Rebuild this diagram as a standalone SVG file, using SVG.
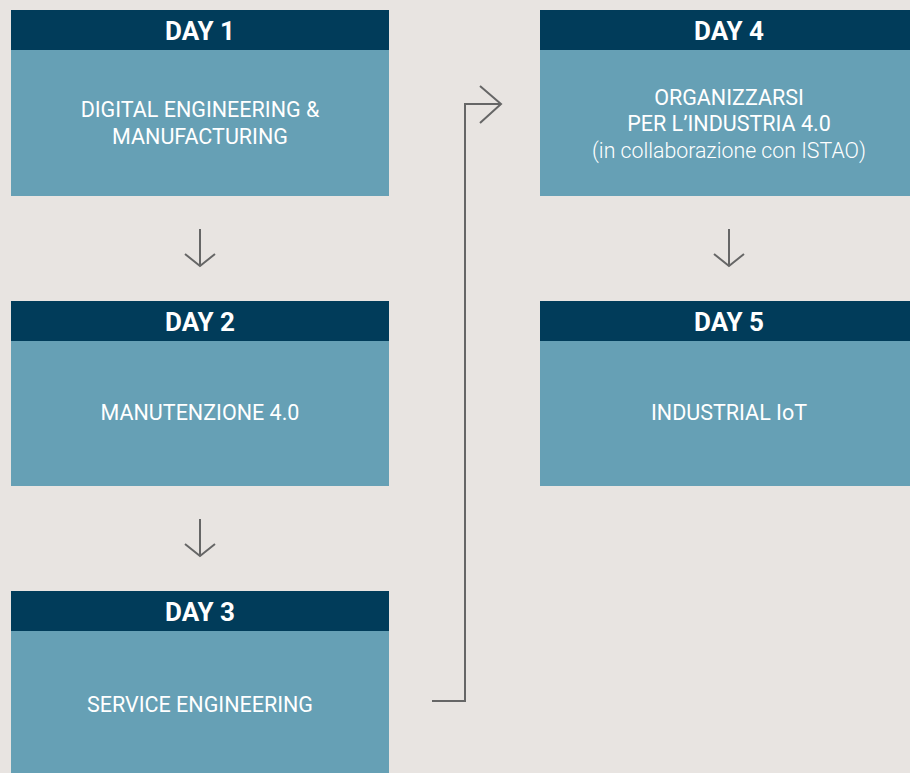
<svg xmlns="http://www.w3.org/2000/svg" width="910" height="773" viewBox="0 0 910 773">
<style>
.hd{fill:#013c5a}
.bd{fill:#66a0b5}
.ht{font-family:Roboto,"Liberation Sans",sans-serif;font-weight:700;font-size:26px;fill:#fff;text-anchor:middle}
.bt{font-family:Roboto,"Liberation Sans",sans-serif;font-weight:400;font-size:21.5px;fill:#fff;text-anchor:middle}
.lt{font-family:Roboto,"Liberation Sans",sans-serif;font-weight:300;font-size:21.3px;fill:#fff;text-anchor:middle}
.ln{fill:none;stroke:#666;stroke-width:2}
</style>
<rect width="910" height="773" fill="#e8e4e1"/>
<g id="day1">
<rect class="hd" x="11" y="10" width="378" height="40"/>
<rect class="bd" x="11" y="50" width="378" height="146"/>
<text class="ht" x="200" y="40">DAY 1</text>
<text class="bt" x="200" y="117">DIGITAL ENGINEERING &amp;</text>
<text class="bt" x="200" y="144">MANUFACTURING</text>
</g>
<g id="day2">
<rect class="hd" x="11" y="301" width="378" height="40"/>
<rect class="bd" x="11" y="341" width="378" height="145"/>
<text class="ht" x="200" y="331">DAY 2</text>
<text class="bt" x="200" y="420">MANUTENZIONE 4.0</text>
</g>
<g id="day3">
<rect class="hd" x="11" y="591" width="378" height="40"/>
<rect class="bd" x="11" y="631" width="378" height="142"/>
<text class="ht" x="200" y="621">DAY 3</text>
<text class="bt" x="200" y="712">SERVICE ENGINEERING</text>
</g>
<g id="day4">
<rect class="hd" x="540" y="10" width="370" height="40"/>
<rect class="bd" x="540" y="50" width="370" height="146"/>
<text class="ht" x="729" y="40">DAY 4</text>
<text class="bt" x="729" y="105">ORGANIZZARSI</text>
<text class="bt" x="729" y="131">PER L’INDUSTRIA 4.0</text>
<text class="lt" x="729" y="158">(in collaborazione con ISTAO)</text>
</g>
<g id="day5">
<rect class="hd" x="540" y="301" width="370" height="40"/>
<rect class="bd" x="540" y="341" width="370" height="145"/>
<text class="ht" x="729" y="331">DAY 5</text>
<text class="bt" x="729" y="420">INDUSTRIAL IoT</text>
</g>
<g id="connectors">
<path class="ln" d="M200 229V266M185 254L200 266L215 254"/>
<path class="ln" d="M200 519V556M185 544L200 556L215 544"/>
<path class="ln" d="M729 229V266M714 254L729 266L744 254"/>
<path class="ln" d="M432 701H465V104H501M480 86L501 104L480 123"/>
</g>
</svg>
